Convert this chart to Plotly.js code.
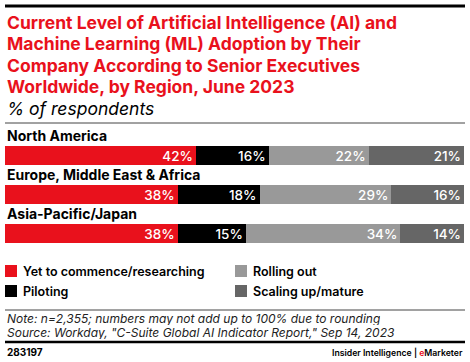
<!DOCTYPE html>
<html>
<head>
<meta charset="utf-8">
<script src="https://cdn.plot.ly/plotly-3.0.1.min.js"></script>
<style>html,body{margin:0;padding:0;background:#fff;}#chart{width:470px;height:362px;}</style>
</head>
<body>
<div id="chart"></div>
<script>
const regions = ["North America", "Europe, Middle East & Africa", "Asia-Pacific/Japan"];
const seriesNames = ["Yet to commence/researching", "Piloting", "Rolling out", "Scaling up/mature"];
const yetToCommence = [42, 38, 38];
const piloting = [16, 18, 15];
const rollingOut = [22, 29, 34];
const scalingUp = [21, 16, 14];
const seriesValues = [yetToCommence, piloting, rollingOut, scalingUp];
const colors = ["#e9111c", "#000000", "#999999", "#666666"];

const FONT = "Inter, 'Liberation Sans', Arial, sans-serif";
const W = 470, H = 362;
const M = {l: 5, r: 6, t: 136, b: 98};
const plotH = H - M.t - M.b;
const P = y => (H - M.b - y) / plotH;           // pixel y -> paper y
const PX = x => (x - M.l) / (W - M.l - M.r);   // pixel x -> paper x

const traces = seriesValues.map((vals, i) => ({
  type: "bar",
  orientation: "h",
  name: seriesNames[i],
  y: regions,
  x: vals,
  marker: {color: colors[i], line: {width: 0}},
  text: vals.map(v => v + "%"),
  textposition: "inside",
  insidetextanchor: "end",
  constraintext: "none",
  textfont: {family: FONT, size: 13.5, color: "#ffffff", weight: 500},
  hoverinfo: "none",
  showlegend: false
}));

const annotations = [];
const shapes = [];

// Title
const titleLines = [
  "Current Level of Artificial Intelligence (AI) and",
  "Machine Learning (ML) Adoption by Their",
  "Company According to Senior Executives",
  "Worldwide, by Region, June 2023"
];
titleLines.forEach((t, i) => {
  annotations.push({xref: "paper", yref: "paper", x: PX(5), y: P(22 + i * 21.5), xanchor: "left", yanchor: "middle",
    text: "<b>" + t + "</b>", showarrow: false, font: {family: FONT, size: 17.5, color: "#e9111c"}});
});
annotations.push({xref: "paper", yref: "paper", x: PX(5), y: P(108), xanchor: "left", yanchor: "middle",
  text: "<i>% of respondents</i>", showarrow: false, font: {family: FONT, size: 17.5, color: "#000"}});

// Category labels above bars
regions.forEach(r => {
  annotations.push({xref: "paper", yref: "y", x: PX(5), y: r, yshift: 20, xanchor: "left", yanchor: "middle",
    text: "<b>" + r + "</b>", showarrow: false, font: {family: FONT, size: 14, color: "#000"}});
});

// Legend (manual, two columns)
const legendOrder = [0, 2, 1, 3];
legendOrder.forEach((si, k) => {
  const col = k % 2, row = Math.floor(k / 2);
  const x0 = col === 0 ? 5 : 235;
  const yc = 271 + row * 20;
  shapes.push({type: "rect", xref: "paper", yref: "paper", x0: PX(x0), x1: PX(x0 + 12), y0: P(yc - 6), y1: P(yc + 6),
    fillcolor: colors[si], line: {width: 0}});
  annotations.push({xref: "paper", yref: "paper", x: PX(x0 + 16), y: P(yc), xanchor: "left", yanchor: "middle",
    text: seriesNames[si], showarrow: false, font: {family: FONT, size: 12.5, color: "#000", weight: 600}});
});

// Rules
shapes.push({type: "line", xref: "paper", yref: "paper", x0: PX(5), x1: PX(465), y0: P(6), y1: P(6), line: {color: "#000", width: 3}});
shapes.push({type: "line", xref: "paper", yref: "paper", x0: PX(5), x1: PX(465), y0: P(123), y1: P(123), line: {color: "#444", width: 1}});
shapes.push({type: "line", xref: "paper", yref: "paper", x0: PX(5), x1: PX(465), y0: P(310), y1: P(310), line: {color: "#444", width: 1}});
shapes.push({type: "line", xref: "paper", yref: "paper", x0: PX(5), x1: PX(465), y0: P(342), y1: P(342), line: {color: "#000", width: 2.5}});

// Notes
annotations.push({xref: "paper", yref: "paper", x: PX(5), y: P(318.5), xanchor: "left", yanchor: "middle", height: 13,
  text: "<i>Note: n=2,355; numbers may not add up to 100% due to rounding</i>", showarrow: false, font: {family: FONT, size: 12, color: "#222"}});
annotations.push({xref: "paper", yref: "paper", x: PX(5), y: P(332.5), xanchor: "left", yanchor: "middle", height: 13,
  text: "<i>Source: Workday, \"C-Suite Global AI Indicator Report,\" Sep 14, 2023</i>", showarrow: false, font: {family: FONT, size: 12, color: "#222"}});
annotations.push({xref: "paper", yref: "paper", x: PX(5), y: P(352), xanchor: "left", yanchor: "middle",
  text: "<b>283197</b>", showarrow: false, font: {family: FONT, size: 10, color: "#000"}});
annotations.push({xref: "paper", yref: "paper", x: PX(465), y: P(352), xanchor: "right", yanchor: "middle",
  text: "Insider Intelligence | <span style='color:#e9111c'>e</span>Marketer", showarrow: false, font: {family: FONT, size: 8.7, color: "#000", weight: 600}});

const layout = {
  width: W, height: H,
  margin: M,
  paper_bgcolor: "#fff", plot_bgcolor: "#fff",
  barmode: "stack",
  bargap: 0.52,
  showlegend: false,
  xaxis: {range: [0, 101], visible: false, fixedrange: true},
  yaxis: {type: "category", autorange: "reversed", visible: false, fixedrange: true},
  annotations: annotations,
  shapes: shapes,
  font: {family: FONT}
};

Plotly.newPlot("chart", traces, layout, {displayModeBar: false, staticPlot: true});
</script>
</body>
</html>
